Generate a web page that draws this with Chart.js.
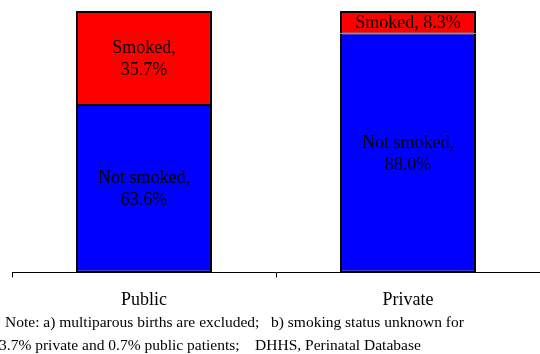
<!DOCTYPE html>
<html>
<head>
<meta charset="utf-8">
<script src="https://cdn.jsdelivr.net/npm/chart.js@4.4.0/dist/chart.umd.min.js"></script>
<style>
  body { margin: 0; background: #fff; }
  #wrap { width: 540px; height: 354px; position: relative; }
</style>
</head>
<body>
<div id="wrap"><canvas id="myChart" width="540" height="354"></canvas></div>
<script>
// data
var categories = ["Public", "Private"];
var notSmoked = [63.6, 88.0];
var smoked = [35.7, 8.3];
var noteLines = [
  "Note: a) multiparous births are excluded;   b) smoking status unknown for",
  "3.7% private and 0.7% public patients;    DHHS, Perinatal Database"
];

// bars are shown as shares of the known total (100% stacked)
var notSmokedShare = [];
var smokedShare = [];
for (var i = 0; i < categories.length; i++) {
  var tot = notSmoked[i] + smoked[i];
  notSmokedShare.push(notSmoked[i] / tot * 100);
  smokedShare.push(smoked[i] / tot * 100);
}
var rawValues = [notSmoked, smoked];
var serif = "'Liberation Serif', 'Times New Roman', serif";

var barLabels = {
  id: "barLabels",
  afterDatasetsDraw: function(chart) {
    var ctx = chart.ctx;
    ctx.save();
    ctx.fillStyle = "#000";
    ctx.font = "18px " + serif;
    ctx.textAlign = "center";
    ctx.textBaseline = "middle";
    chart.data.datasets.forEach(function(ds, di) {
      chart.getDatasetMeta(di).data.forEach(function(bar, j) {
        var v = rawValues[di][j].toFixed(1) + "%";
        var mid = (bar.y + bar.base) / 2;
        var h = Math.abs(bar.base - bar.y);
        if (h < 40) {
          ctx.fillText(ds.label + ", " + v, bar.x, mid + 1);
        } else {
          ctx.fillText(ds.label + ",", bar.x, mid - 10);
          ctx.fillText(v, bar.x, mid + 12);
        }
      });
    });
    ctx.restore();
  }
};

var notes = {
  id: "notes",
  afterDraw: function(chart) {
    var ctx = chart.ctx;
    ctx.save();
    ctx.fillStyle = "#000";
    ctx.font = "15.5px " + serif;
    ctx.textAlign = "left";
    ctx.textBaseline = "middle";
    ctx.fillText(noteLines[0], 5, 323);
    ctx.fillText(noteLines[1], -1, 346);
    ctx.restore();
  }
};

var ctx = document.getElementById("myChart").getContext("2d");
var myChart = new Chart(ctx, {
  type: "bar",
  data: {
    labels: categories,
    datasets: [{
      label: "Not smoked",
      data: notSmokedShare,
      backgroundColor: "#0000ff",
      borderColor: "#000",
      borderWidth: { top: 1, bottom: 2, left: 2, right: 2 },
      borderSkipped: false
    }, {
      label: "Smoked",
      data: smokedShare,
      backgroundColor: "#ff0000",
      borderColor: "#000",
      borderWidth: { top: 2, bottom: 1, left: 2, right: 2 },
      borderSkipped: false
    }]
  },
  options: {
    responsive: false,
    animation: false,
    layout: { padding: { left: 12, right: 0, top: 11, bottom: 31 } },
    datasets: { bar: { categoryPercentage: 1, barPercentage: 0.515 } },
    plugins: {
      legend: { display: false },
      tooltip: { enabled: false }
    },
    scales: {
      x: {
        stacked: true,
        grid: { drawOnChartArea: false, drawTicks: true, tickLength: 5, color: "#000", offset: true },
        border: { display: true, color: "#000", width: 1 },
        ticks: { color: "#000", font: { family: serif, size: 18 }, padding: 12 }
      },
      y: {
        stacked: true,
        display: false,
        min: 0,
        max: 100
      }
    }
  },
  plugins: [barLabels, notes]
});
</script>
</body>
</html>
